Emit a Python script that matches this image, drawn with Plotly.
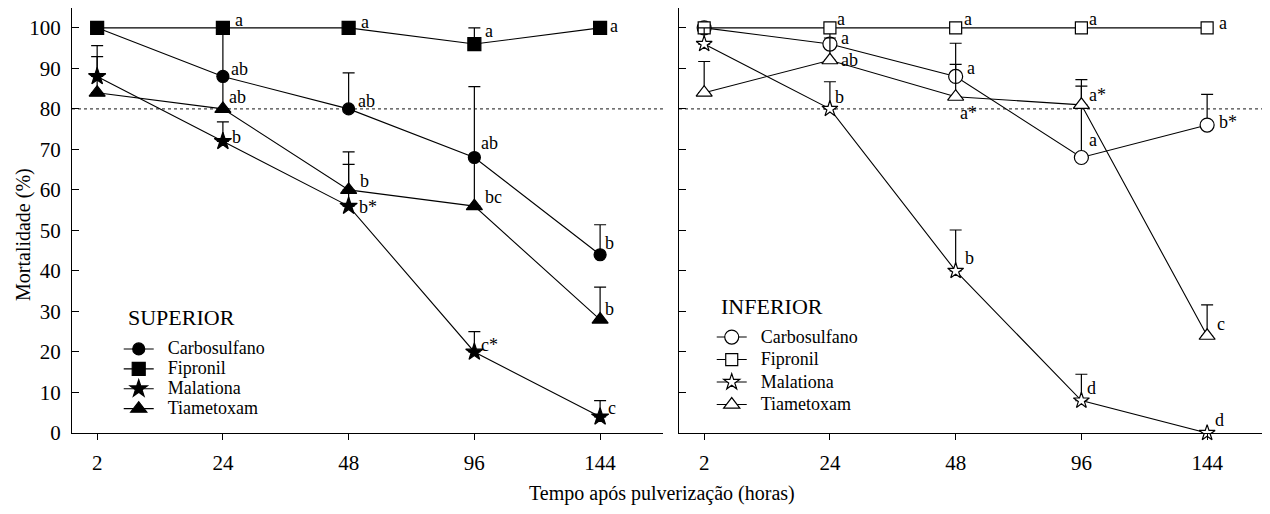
import plotly.graph_objects as go

# ---------------- data ----------------
times = ["2", "24", "48", "96", "144"]
series = ["Carbosulfano", "Fipronil", "Malationa", "Tiametoxam"]

# SUPERIOR (filled markers)
sup_carbosulfano = [100, 88, 80, 68, 44]
sup_fipronil = [100, 100, 100, 96, 100]
sup_malationa = [88, 72, 56, 20, 4]
sup_tiametoxam = [84, 80, 60, 56, 28]

sup_err_carbosulfano = [None, 12, 8.9, 17.5, 7.4]
sup_err_fipronil = [None, None, None, 4, None]
sup_err_malationa = [7.6, 4.8, 10.3, 5.0, 4.0]
sup_err_tiametoxam = [8.9, 8, 9.4, 12, 8]

sup_lab_carbosulfano = ["", "ab", "ab", "ab", "b"]
sup_lab_fipronil = ["", "a", "a", "a", "a"]
sup_lab_malationa = ["", "b", "b*", "c*", "c"]
sup_lab_tiametoxam = ["", "ab", "b", "bc", "b"]

# INFERIOR (open markers)
inf_carbosulfano = [100, 96, 88, 68, 76]
inf_fipronil = [100, 100, 100, 100, 100]
inf_malationa = [96, 80, 40, 8, 0]
inf_tiametoxam = [84, 92, 83, 81, 24]

inf_err_carbosulfano = [None, 4, 8.2, 19.2, 7.6]
inf_err_fipronil = [None, None, None, None, None]
inf_err_malationa = [4, 6.7, 10.1, 6.5, None]
inf_err_tiametoxam = [7.7, 5.5, 8, 4.6, 7.6]

inf_lab_carbosulfano = ["", "a", "a", "a", "b*"]
inf_lab_fipronil = ["", "a", "a", "a", "a"]
inf_lab_malationa = ["", "b", "b", "d", "d"]
inf_lab_tiametoxam = ["", "ab", "a*", "a*", "c"]

y_ticks = list(range(0, 101, 10))
threshold = 80

# ---------------- styles ----------------
FONT = "Liberation Serif"
sup_sym = {"Carbosulfano": ("circle", 12), "Fipronil": ("square", 13),
           "Malationa": ("star", 13), "Tiametoxam": ("triangle-up", 14)}
inf_sym = {"Carbosulfano": ("circle", 14), "Fipronil": ("square", 12),
           "Malationa": ("star", 12), "Tiametoxam": ("triangle-up", 14)}

# label pixel offsets (dx, dy) per series per time
sup_off = {
    "Carbosulfano": [(0, 0), (17, 7), (18, 8), (15, 15), (9, 12)],
    "Fipronil": [(0, 0), (16, 8), (16, 6), (15, 13), (14, 2)],
    "Malationa": [(0, 0), (14, 4), (19, -1), (15, 7), (12, 9)],
    "Tiametoxam": [(0, 0), (15, 12), (16, 9), (19, 9), (9, 11)],
}
inf_off = {
    "Carbosulfano": [(0, 0), (15, 6), (15, 8), (12, 18), (21, 3)],
    "Fipronil": [(0, 0), (11, 9), (12, 9), (12, 9), (16, 5)],
    "Malationa": [(0, 0), (10, 12), (14, 13), (10, 13), (12, 13)],
    "Tiametoxam": [(0, 0), (20, 0), (13, -16), (16, 10), (14, 12)],
}

sup_vals = {"Carbosulfano": sup_carbosulfano, "Fipronil": sup_fipronil,
            "Malationa": sup_malationa, "Tiametoxam": sup_tiametoxam}
sup_errs = {"Carbosulfano": sup_err_carbosulfano, "Fipronil": sup_err_fipronil,
            "Malationa": sup_err_malationa, "Tiametoxam": sup_err_tiametoxam}
sup_labs = {"Carbosulfano": sup_lab_carbosulfano, "Fipronil": sup_lab_fipronil,
            "Malationa": sup_lab_malationa, "Tiametoxam": sup_lab_tiametoxam}
inf_vals = {"Carbosulfano": inf_carbosulfano, "Fipronil": inf_fipronil,
            "Malationa": inf_malationa, "Tiametoxam": inf_tiametoxam}
inf_errs = {"Carbosulfano": inf_err_carbosulfano, "Fipronil": inf_err_fipronil,
            "Malationa": inf_err_malationa, "Tiametoxam": inf_err_tiametoxam}
inf_labs = {"Carbosulfano": inf_lab_carbosulfano, "Fipronil": inf_lab_fipronil,
            "Malationa": inf_lab_malationa, "Tiametoxam": inf_lab_tiametoxam}

fig = go.Figure()
xi = list(range(len(times)))


def add_panel(vals, errs, syms, filled, xa, ya, legend):
    for s in series:
        sym, size = syms[s]
        err = errs[s]
        fig.add_trace(go.Scatter(
            x=xi, y=vals[s], mode="lines+markers",
            name='<span style="font-size:18px">&nbsp;&nbsp;%s</span>' % s,
            xaxis=xa, yaxis=ya, legend=legend, cliponaxis=False,
            line=dict(color="black", width=1.1),
            marker=dict(symbol=sym, size=size,
                        color="black" if filled else "white",
                        line=dict(color="black", width=1.2)),
            error_y=dict(type="data", symmetric=False, array=err,
                         arrayminus=[0] * len(err), width=6,
                         thickness=1.2, color="black"),
        ))


add_panel(sup_vals, sup_errs, sup_sym, True, "x", "y", "legend")
add_panel(inf_vals, inf_errs, inf_sym, False, "x2", "y2", "legend2")

ann = []
for vals, labs, off, xr, yr in [(sup_vals, sup_labs, sup_off, "x", "y"),
                                 (inf_vals, inf_labs, inf_off, "x2", "y2")]:
    for s in series:
        for i, t in enumerate(labs[s]):
            if not t:
                continue
            dx, dy = off[s][i]
            ann.append(dict(x=i, y=vals[s][i], xref=xr, yref=yr, text=t,
                            showarrow=False, xanchor="center", yanchor="middle",
                            xshift=dx, yshift=dy,
                            font=dict(family=FONT, size=18, color="black")))

ann.append(dict(text="Mortalidade (%)", x=0, y=0.4659, xref="paper", yref="paper",
                xshift=-48, textangle=-90, showarrow=False, xanchor="center",
                yanchor="middle", font=dict(family=FONT, size=20, color="black")))
ann.append(dict(text="Tempo após pulverização (horas)", x=0.4925, y=-0.1435,
                xref="paper", yref="paper", showarrow=False, xanchor="center",
                yanchor="middle", font=dict(family=FONT, size=20, color="black")))
# legend titles
ann.append(dict(text="SUPERIOR", x=0.0451, y=0.2729, xref="paper", yref="paper",
                showarrow=False, xanchor="left", yanchor="middle",
                font=dict(family=FONT, size=22, color="black")))
ann.append(dict(text="INFERIOR", x=0.540, y=0.2965, xref="paper", yref="paper",
                showarrow=False, xanchor="left", yanchor="middle",
                font=dict(family=FONT, size=22, color="black")))

shapes = []
for xr, yr in [("x domain", "y"), ("x2 domain", "y2")]:
    shapes.append(dict(type="line", xref=xr, yref=yr, x0=0, x1=1,
                       y0=threshold, y1=threshold,
                       line=dict(color="#444", width=1.3, dash="dot"), layer="below"))

xaxis_common = dict(range=[-0.2, 4.5], tickvals=xi, ticktext=times,
                    showline=True, linecolor="black", linewidth=1.3,
                    ticks="outside", ticklen=6, tickcolor="black", tickwidth=1.2,
                    showgrid=False, zeroline=False, ticklabelstandoff=5,
                    tickfont=dict(family=FONT, size=21, color="black"))
yaxis_common = dict(range=[0, 104.9], tickvals=y_ticks,
                    showline=True, linecolor="black", linewidth=1.3,
                    ticks="inside", ticklen=7, tickcolor="black", tickwidth=1.2,
                    showgrid=False, zeroline=False,
                    tickfont=dict(family=FONT, size=21, color="black"))

legend_common = dict(bgcolor="rgba(0,0,0,0)", borderwidth=0,
                     tracegroupgap=0, itemwidth=30,
                     xanchor="left", yanchor="top")

fig.update_layout(
    width=1262, height=506,
    margin=dict(l=64, r=0, t=0, b=81),
    paper_bgcolor="white", plot_bgcolor="white",
    xaxis=dict(domain=[0, 0.4933], anchor="y", **xaxis_common),
    yaxis=dict(domain=[0, 1], anchor="x", ticklabelstandoff=6, **yaxis_common),
    xaxis2=dict(domain=[0.5067, 1], anchor="y2", **xaxis_common),
    yaxis2=dict(domain=[0, 1], anchor="x2", showticklabels=False, **yaxis_common),
    legend=dict(x=0.039, y=0.233,
                font=dict(family=FONT, size=13, color="black"),
                **legend_common),
    legend2=dict(x=0.534, y=0.264,
                 font=dict(family=FONT, size=15, color="black"),
                 **legend_common),
    annotations=ann, shapes=shapes, showlegend=True,
)

fig.write_html("out.html")
